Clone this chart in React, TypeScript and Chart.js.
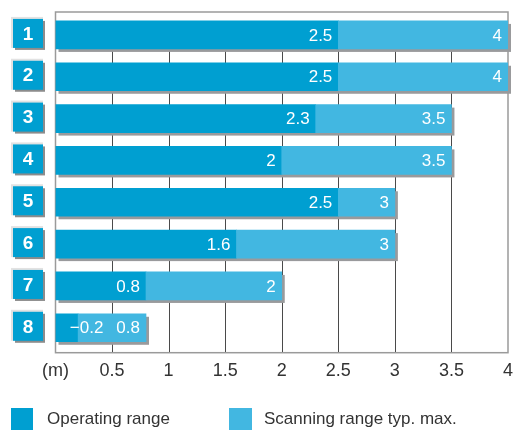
import React, { useEffect, useRef } from "react";
import { Chart, registerables } from "chart.js";

Chart.register(...registerables);

const categories = ["1", "2", "3", "4", "5", "6", "7", "8"];
const operatingRange = [2.5, 2.5, 2.3, 2, 2.5, 1.6, 0.8, 0.2];
const scanningRange = [4, 4, 3.5, 3.5, 3, 3, 2, 0.8];
const operatingLabels = ["2.5", "2.5", "2.3", "2", "2.5", "1.6", "0.8", "\u22120.2"];
const scanningLabels = ["4", "4", "3.5", "3.5", "3", "3", "2", "0.8"];
const xTickLabels: Record<string, string> = {
  "0": "(m)", "0.5": "0.5", "1": "1", "1.5": "1.5", "2": "2",
  "2.5": "2.5", "3": "3", "3.5": "3.5", "4": "4",
};
const legendLabels = ["Operating range", "Scanning range typ. max."];

const DARK = "#009fd1";
const LIGHT = "#42b7e1";
const SHADOW = "#999a9c";
const FONT = "'Liberation Sans', Arial, sans-serif";

const decorPlugin = {
  id: "decor",
  beforeDatasetsDraw(chart: any) {
    const { ctx, chartArea } = chart;
    const xs = chart.scales.x;
    const m0 = chart.getDatasetMeta(0);
    const m1 = chart.getDatasetMeta(1);
    const frameTop = chartArea.top - 2;
    const frameBottom = chartArea.bottom + 4;
    ctx.save();
    const first = m0.data[0];
    const gridTop = first.y + first.height / 2;
    ctx.strokeStyle = "#4a4a4a";
    ctx.lineWidth = 1;
    xs.ticks.forEach((t: any) => {
      if (t.value <= xs.min || t.value >= xs.max) return;
      const px = Math.round(xs.getPixelForValue(t.value)) + 0.5;
      ctx.beginPath();
      ctx.moveTo(px, gridTop);
      ctx.lineTo(px, frameBottom);
      ctx.stroke();
    });
    ctx.strokeStyle = "#9a9a9a";
    ctx.lineWidth = 1.5;
    ctx.strokeRect(chartArea.left, frameTop, chartArea.right - chartArea.left, frameBottom - frameTop);
    ctx.fillStyle = SHADOW;
    m1.data.forEach((el: any, i: number) => {
      const left = xs.getPixelForValue(0);
      const right = xs.getPixelForValue(scanningRange[i]);
      const top = el.y - el.height / 2;
      ctx.fillRect(left + 3, top + 3, right - left, el.height);
    });
    ctx.restore();
  },
  afterDatasetsDraw(chart: any) {
    const { ctx } = chart;
    const m0 = chart.getDatasetMeta(0);
    const m1 = chart.getDatasetMeta(1);
    ctx.save();
    ctx.font = `17px ${FONT}`;
    ctx.fillStyle = "#ffffff";
    ctx.textAlign = "right";
    ctx.textBaseline = "middle";
    m1.data.forEach((el: any, i: number) => {
      const lightRight = el.x - 6;
      ctx.fillText(scanningLabels[i], lightRight, el.y + 1);
      const lightW = ctx.measureText(scanningLabels[i]).width;
      const d = m0.data[i];
      const dw = ctx.measureText(operatingLabels[i]).width;
      let darkRight = d.x - 6;
      if (d.x - d.base < dw + 12) darkRight = lightRight - lightW - 13;
      ctx.fillText(operatingLabels[i], darkRight, d.y + 1);
    });
    const ys = chart.scales.y;
    categories.forEach((c, i) => {
      const cy = ys.getPixelForValue(i) - 1.5;
      const bx = 13, bw = 30, bh = 29;
      const by = cy - bh / 2;
      ctx.fillStyle = "#e2e2e2";
      ctx.fillRect(bx - 2, by - 2, bw + 2, bh + 2);
      ctx.fillStyle = "#8c8c8c";
      ctx.fillRect(bx + 2, by + 2, bw, bh);
      ctx.fillStyle = DARK;
      ctx.fillRect(bx, by, bw, bh);
      ctx.fillStyle = "#ffffff";
      ctx.font = `bold 19px ${FONT}`;
      ctx.textAlign = "center";
      ctx.textBaseline = "middle";
      ctx.fillText(c, bx + bw / 2, cy + 1);
    });
    ctx.restore();
  },
};

export default function App() {
  const ref = useRef<HTMLCanvasElement | null>(null);
  useEffect(() => {
    document.body.style.margin = "0";
    const chart = new Chart(ref.current as HTMLCanvasElement, {
      type: "bar",
      data: {
        labels: categories,
        datasets: [
          {
            label: legendLabels[0],
            data: operatingRange.map((v) => [0, v]) as any,
            backgroundColor: DARK,
            barThickness: 28,
            grouped: false,
            order: 2,
          } as any,
          {
            label: legendLabels[1],
            data: operatingRange.map((v, i) => [v, scanningRange[i]]) as any,
            backgroundColor: LIGHT,
            barThickness: 28,
            grouped: false,
            order: 1,
          } as any,
        ],
      },
      options: {
        indexAxis: "y",
        animation: false,
        responsive: false,
        maintainAspectRatio: false,
        layout: { padding: { left: 55.5, right: 10, top: 14, bottom: 48 } },
        plugins: { legend: { display: false }, tooltip: { enabled: false } },
        scales: {
          x: {
            type: "linear",
            min: 0,
            max: 4,
            ticks: {
              stepSize: 0.5,
              padding: 0,
              color: "#333333",
              font: { family: FONT, size: 18 },
              callback: (v: any) => xTickLabels[String(v)] ?? String(v),
            },
            grid: { display: false, drawTicks: true, tickLength: 11.7 },
            border: { display: false },
          },
          y: {
            type: "category",
            display: false,
            offset: true,
          },
        },
      },
      plugins: [decorPlugin],
    });
    return () => chart.destroy();
  }, []);

  const legendStyle = (left: number): React.CSSProperties => ({
    position: "absolute",
    left,
    top: 408,
    display: "flex",
    alignItems: "center",
    fontFamily: FONT,
    fontSize: 17,
    color: "#333333",
    whiteSpace: "nowrap",
  });

  return (
    <div style={{ position: "relative", width: 518, height: 430, overflow: "hidden", background: "#fff" }}>
      <canvas ref={ref} width={518} height={430} style={{ display: "block", width: 518, height: 430 }} />
      <div style={legendStyle(11)}>
        <span style={{ display: "inline-block", width: 22, height: 22, background: DARK, marginRight: 14 }} />
        <span>{legendLabels[0]}</span>
      </div>
      <div style={legendStyle(229)}>
        <span style={{ display: "inline-block", width: 23, height: 22, background: LIGHT, marginRight: 12 }} />
        <span>{legendLabels[1]}</span>
      </div>
    </div>
  );
}
